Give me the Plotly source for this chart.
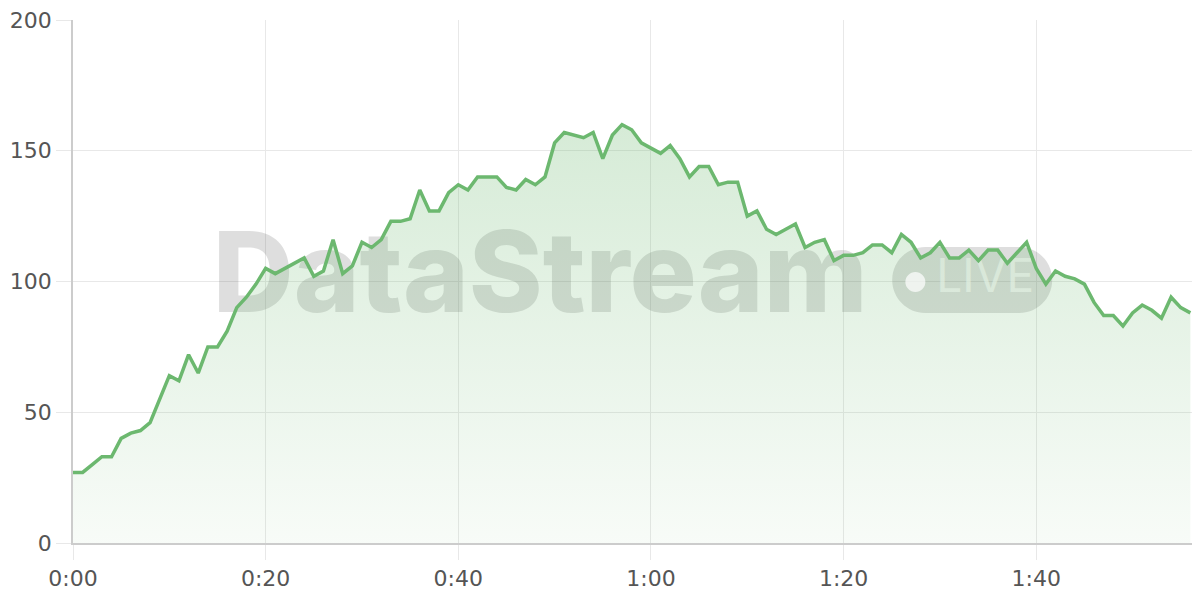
import plotly.graph_objects as go

minutes = list(range(117))
values = [
    27, 27, 30, 33, 33, 40, 42, 43, 46, 55,
    64, 62, 72, 65, 75, 75, 81, 90, 94, 99,
    105, 103, 105, 107, 109, 102, 104, 116, 103, 106,
    115, 113, 116, 123, 123, 124, 135, 127, 127, 134,
    137, 135, 140, 140, 140, 136, 135, 139, 137, 140,
    153, 157, 156, 155, 157, 147, 156, 160, 158, 153,
    151, 149, 152, 147, 140, 144, 144, 137, 138, 138,
    125, 127, 120, 118, 120, 122, 113, 115, 116, 108,
    110, 110, 111, 114, 114, 111, 118, 115, 109, 111,
    115, 109, 109, 112, 108, 112, 112, 107, 111, 115,
    105, 99, 104, 102, 101, 99, 92, 87, 87, 83,
    88, 91, 89, 86, 94, 90, 88,
]
tick_vals = [0, 20, 40, 60, 80, 100]
tick_text = ["0:00", "0:20", "0:40", "1:00", "1:20", "1:40"]
y_ticks = [0, 50, 100, 150, 200]

LINE = "rgb(108,184,111)"
FONT = "DejaVu Sans, sans-serif"
WM = "rgba(90,90,90,0.2)"

fig = go.Figure()

# watermark text (drawn before data so line sits on top)
fig.add_trace(go.Scatter(
    x=[48.5], y=[99.2], mode="text", text=["DataStream"],
    textfont=dict(family="Inter, Open Sans, sans-serif", size=112, color=WM, weight=800),
    hoverinfo="skip", showlegend=False,
))
fig.add_trace(go.Scatter(
    x=[94.7], y=[100.3], mode="text", text=["LIVE"],
    textfont=dict(family="Inter, Open Sans, sans-serif", size=46, color="rgba(255,255,255,0.7)", weight=400),
    hoverinfo="skip", showlegend=False,
))

fig.add_trace(go.Scatter(
    x=minutes, y=values, mode="lines",
    line=dict(color=LINE, width=3.5),
    fill="tozeroy",
    fillgradient=dict(type="vertical",
                      colorscale=[[0, "rgba(108,184,111,0.05)"], [1, "rgba(108,184,111,0.28)"]]),
    hoverinfo="x+y", showlegend=False,
))

# LIVE badge (pill) and dot, in pixel size mode
r = 33
hw = 47
k = 0.5523 * r
pill = (f"M {-hw},{-r} L {hw},{-r} "
        f"C {hw + k},{-r} {hw + r},{-k} {hw + r},0 "
        f"C {hw + r},{k} {hw + k},{r} {hw},{r} "
        f"L {-hw},{r} "
        f"C {-hw - k},{r} {-hw - r},{k} {-hw - r},0 "
        f"C {-hw - r},{-k} {-hw - k},{-r} {-hw},{-r} Z")
fig.add_shape(type="path", path=pill, xref="x", yref="y",
              xsizemode="pixel", ysizemode="pixel", xanchor=93.35, yanchor=100.6,
              fillcolor=WM, line=dict(width=0), layer="between")
rd = 10
kd = 0.5523 * rd
dot = (f"M 0,{-rd} C {kd},{-rd} {rd},{-kd} {rd},0 C {rd},{kd} {kd},{rd} 0,{rd} "
       f"C {-kd},{rd} {-rd},{kd} {-rd},0 C {-rd},{-kd} {-kd},{-rd} 0,{-rd} Z")
fig.add_shape(type="path", path=dot, xref="x", yref="y",
              xsizemode="pixel", ysizemode="pixel", xanchor=87.45, yanchor=99.8,
              fillcolor="rgba(255,255,255,0.7)", line=dict(width=0), layer="above")

fig.update_layout(
    width=1192, height=592,
    margin=dict(l=65, r=0, t=12, b=57),
    paper_bgcolor="white", plot_bgcolor="white",
    font=dict(family=FONT, size=22, color="#555555"),
)
fig.update_xaxes(
    range=[0, 117], tickvals=tick_vals, ticktext=tick_text,
    showgrid=True, gridcolor="#e8e8e8", gridwidth=1,
    ticks="outside", ticklen=15, tickcolor="#e8e8e8", tickwidth=1,
    showline=True, linecolor="#cccccc", linewidth=1.5,
    zeroline=False, tickfont=dict(size=22, color="#555555"),
    automargin=False, ticklabeloverflow="allow",
)
fig.update_yaxes(
    range=[0, 200], tickvals=y_ticks,
    showgrid=True, gridcolor="#e8e8e8", gridwidth=1,
    ticks="outside", ticklen=15, tickcolor="#e8e8e8", tickwidth=1,
    showline=True, linecolor="#cccccc", linewidth=1.5,
    zeroline=False, tickfont=dict(size=22, color="#555555"),
    automargin=False, ticklabeloverflow="allow",
)

fig.write_html("out.html")
